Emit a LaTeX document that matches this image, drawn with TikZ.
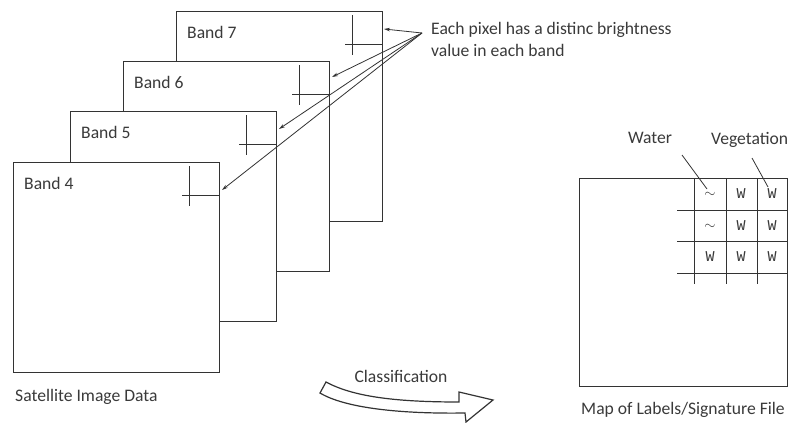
\documentclass[tikz,border=0pt]{standalone}
\usepackage{fontspec}
\setmainfont{Carlito}
\newfontfamily\monofam{Liberation Mono}
\usetikzlibrary{arrows.meta,calc}
\definecolor{ink}{HTML}{333333}
\definecolor{txt}{HTML}{3a3a3a}
\begin{document}
\begin{tikzpicture}[x=1pt,y=-1pt,
  bandbox/.style={draw=ink, fill=white, line width=1.4pt, minimum width=206pt, minimum height=210pt, anchor=north west, inner sep=0pt},
  lbl/.style={text=txt, font=\fontsize{17.6}{22}\selectfont, inner sep=0pt},
  pix/.style={draw=ink, line width=1pt},
  ptr/.style={draw=ink, line width=0.8pt, -{Stealth[length=6pt,width=3.5pt]}},
  cell/.style={text=txt, font=\monofam\fontsize{15}{15}\selectfont, inner sep=0pt},
  grid/.style={draw=ink, line width=1pt},
  lead/.style={draw=ink, line width=0.8pt}]
\useasboundingbox (0,0) rectangle (790,423);
% bands (back to front)
\node[bandbox] (b7) at (176,11) {};
\node[bandbox] (b6) at (123,61) {};
\node[bandbox] (b5) at (70,111) {};
\node[bandbox] (b4) at (13,162) {};
\foreach \b/\t in {b7/Band 7,b6/Band 6,b5/Band 5,b4/Band 4}{
  \node[lbl, anchor=west] (l\b) at ($(\b.north west)+(11,21)$) {\t};
}
% pixel crosses
\foreach \b in {b7,b6,b5,b4}{
  \draw[pix] ($(\b.north east)+(-31,4)$) -- ($(\b.north east)+(-31,44)$);
  \draw[pix] ($(\b.north east)+(-38,33)$) -- ($(\b.north east)+(0,33)$);
}
% pointer arrows
\coordinate (src) at (422,33);
\coordinate (t7) at (384,29);
\coordinate (t6) at (332,77);
\coordinate (t5) at (279,129);
\coordinate (t4) at (222,190);
\foreach \t in {t7,t6,t5,t4}{ \draw[ptr] (src) -- (\t); }
\node[lbl, anchor=north west, align=left] (note) at (431,22) {Each pixel has a distinc brightness\\value in each band};
% captions
\node[lbl, anchor=west] (sat) at (15,397) {Satellite Image Data};
\node[lbl] (cls) at (401,376) {Classification};
% curved block arrow
\draw[draw=ink, line width=1.2pt, fill=white, line join=miter]
  (326,382) .. controls (352,396) and (392,402) .. (459,402)
  -- (459,392) -- (493,400) -- (466,422) -- (465,413)
  .. controls (400,414) and (345,408) .. (320,393) -- cycle;
% map of labels
\node[draw=ink, fill=white, line width=1.4pt, minimum width=208pt, minimum height=208pt, anchor=north west, inner sep=0pt] (map) at (579,178) {};
\foreach \x in {694,726,757}{ \draw[grid] (\x,178) -- (\x,284); }
\foreach \y in {210,241,273}{ \draw[grid] (677,\y) -- (787,\y); }
\node[cell] (c11) at (710,195) {$\sim$};
\node[cell] (c12) at (741,194) {W};
\node[cell] (c13) at (772,194) {W};
\node[cell] (c21) at (710,227) {$\sim$};
\node[cell] (c22) at (741,226) {W};
\node[cell] (c23) at (772,226) {W};
\node[cell] (c31) at (710,257) {W};
\node[cell] (c32) at (741,257) {W};
\node[cell] (c33) at (772,257) {W};
\node[lbl] (water) at (650,138) {Water};
\node[lbl, anchor=west] (veg) at (711,140) {Vegetation};
\coordinate (wend) at (707,189);
\coordinate (vend) at (768,187);
\draw[lead] (682,155) -- (wend);
\draw[lead] (752,158) -- (vend);
\node[lbl] (mapl) at (683,410) {Map of Labels/Signature File};
\end{tikzpicture}
\end{document}
